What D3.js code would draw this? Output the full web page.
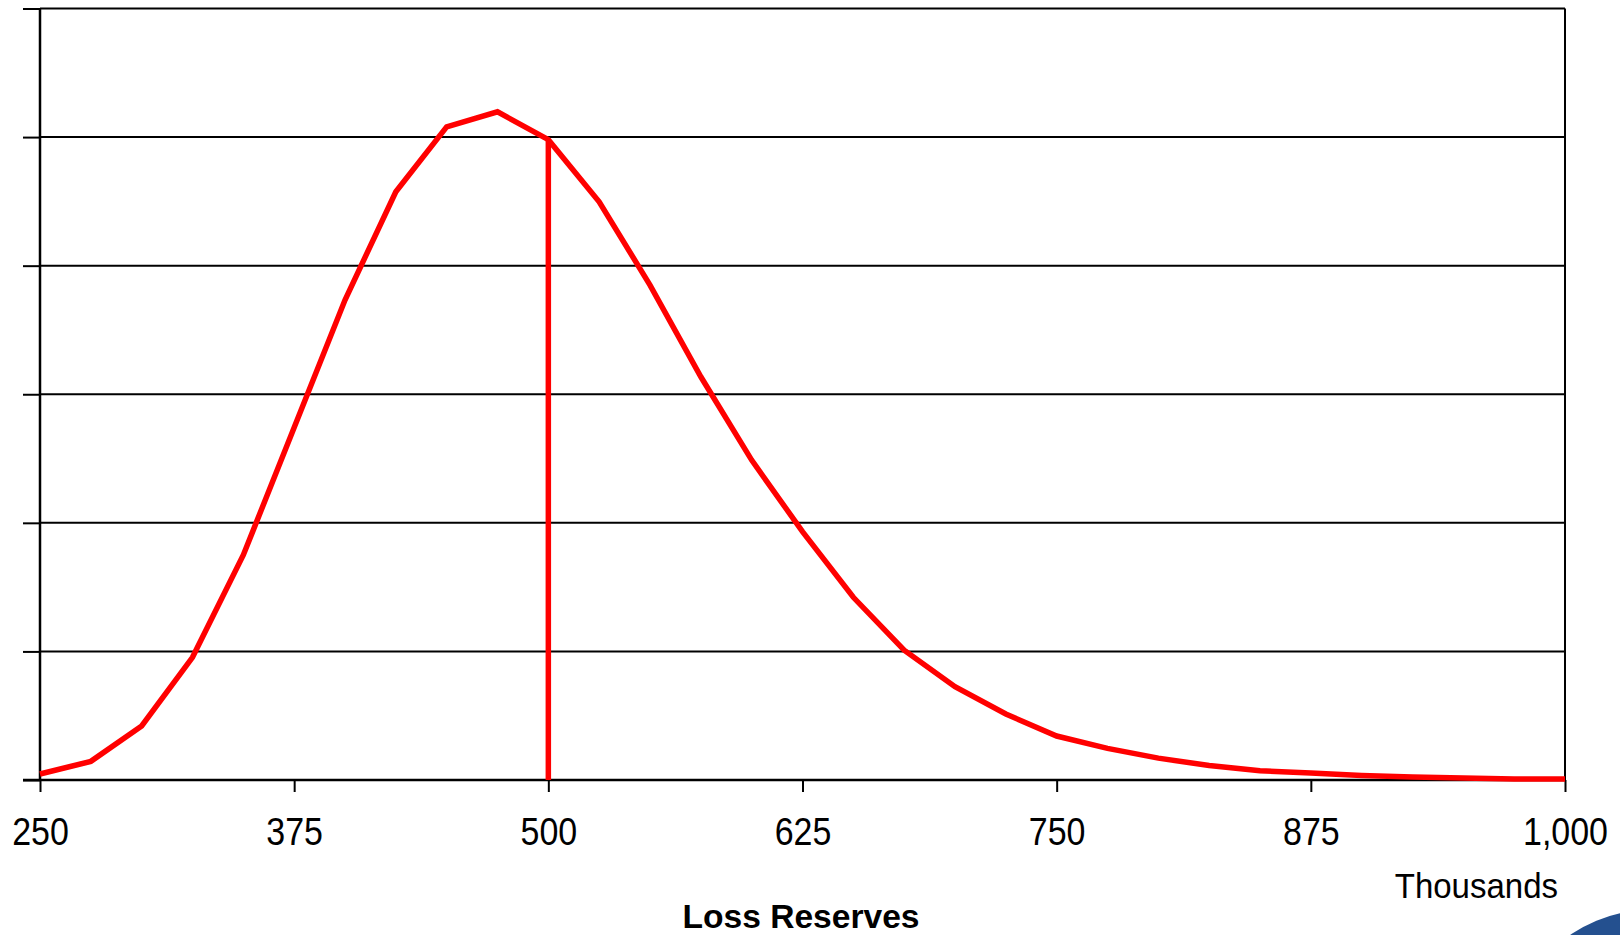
<!DOCTYPE html>
<html>
<head>
<meta charset="utf-8">
<script src="https://cdn.jsdelivr.net/npm/d3@7"></script>
<style>
  html, body { margin: 0; padding: 0; background: #fff; }
  svg { display: block; }
  text { font-family: "Liberation Sans", Arial, sans-serif; fill: #000; }
</style>
</head>
<body>
<svg id="chart" width="1620" height="935"></svg>
<script>
// Loss reserves (thousands)
const reserves = [250,275,300,325,350,375,400,425,450,475,500,525,550,575,600,625,650,675,700,725,750,775,800,825,850,875,900,925,950,975,1000];
// Relative frequency (gridline units, unlabelled axis)
const frequency = [0.047,0.145,0.42,0.954,1.75,2.741,3.733,4.575,5.08,5.197,4.98,4.497,3.849,3.136,2.488,1.931,1.421,1.01,0.726,0.513,0.342,0.246,0.17,0.113,0.072,0.054,0.035,0.023,0.016,0.008,0.008];
const xTicks = [250,375,500,625,750,875,1000];
const yTicks = [0,1,2,3,4,5,6];
const markerReserve = 500;
const xTitle = "Loss Reserves";
const unitLabel = "Thousands";

const svg = d3.select("#chart");
const mLeft = 40, mRight = 1565, mTop = 8.5, mBottom = 780;

const x = d3.scaleLinear().domain([250, 1000]).range([mLeft, mRight]);
const y = d3.scaleLinear().domain([0, 6]).range([mBottom, mTop]);

// blue logo fragment in corner
svg.append("circle").attr("cx", 1650).attr("cy", 1050).attr("r", 140).attr("fill", "#24508f");

// gridlines
svg.append("g").selectAll("line").data(yTicks.filter(d => d > 0)).join("line")
  .attr("x1", mLeft).attr("x2", mRight)
  .attr("y1", d => y(d)).attr("y2", d => y(d))
  .attr("stroke", "#000").attr("stroke-width", 2);

// right border
svg.append("line").attr("x1", mRight).attr("x2", mRight).attr("y1", mTop).attr("y2", mBottom)
  .attr("stroke", "#000").attr("stroke-width", 2);

// y axis (no labels)
const yAxis = svg.append("g").attr("transform", `translate(${mLeft},0)`)
  .call(d3.axisLeft(y).tickValues(yTicks).tickSize(17).tickFormat(""));
yAxis.select(".domain").attr("stroke", "#000").attr("stroke-width", 2.5).attr("d", `M0,${mTop}V${mBottom}`);
yAxis.selectAll(".tick line").attr("stroke", "#000").attr("stroke-width", 2);

// x axis
const xAxis = svg.append("g").attr("transform", `translate(0,${mBottom})`)
  .call(d3.axisBottom(x).tickValues(xTicks).tickSize(12).tickFormat(d3.format(",")));
xAxis.select(".domain").attr("stroke", "#000").attr("stroke-width", 2.5).attr("d", `M${mLeft - 17},0H${mRight}`);
xAxis.selectAll(".tick line").attr("stroke", "#000").attr("stroke-width", 2);
xAxis.selectAll(".tick text")
  .attr("y", 0).attr("dy", 0)
  .attr("font-size", 34)
  .attr("font-family", "'Liberation Sans', Arial, sans-serif")
  .attr("fill", "#000")
  .attr("transform", "translate(0,65) scale(1,1.12)");

// curve
const line = d3.line().x((d, i) => x(reserves[i])).y(d => y(d));
svg.append("path").datum(frequency)
  .attr("d", line).attr("fill", "none")
  .attr("stroke", "#ff0000").attr("stroke-width", 5.5).attr("stroke-linejoin", "miter");

// marker at 500
const mi = reserves.indexOf(markerReserve);
svg.append("line")
  .attr("x1", x(markerReserve)).attr("x2", x(markerReserve))
  .attr("y1", y(0)).attr("y2", y(frequency[mi]))
  .attr("stroke", "#ff0000").attr("stroke-width", 5.5);

// labels
svg.append("text").attr("text-anchor", "end")
  .attr("transform", "translate(1558,898) scale(1,1.06)")
  .attr("font-size", 33).text(unitLabel);
svg.append("text").attr("text-anchor", "middle")
  .attr("x", 801).attr("y", 928)
  .attr("font-size", 33.6).attr("font-weight", "bold").text(xTitle);
</script>
</body>
</html>
